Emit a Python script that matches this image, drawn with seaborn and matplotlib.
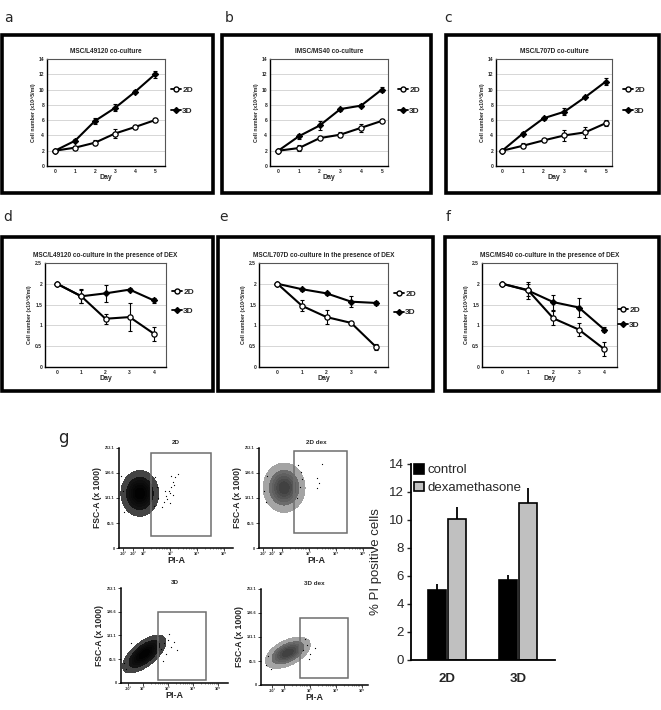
import numpy as np
import pandas as pd
import matplotlib
matplotlib.use("Agg")
import matplotlib.pyplot as plt
import seaborn as sns
from matplotlib.patches import Rectangle
from matplotlib.lines import Line2D
from matplotlib.colors import LinearSegmentedColormap

# ---------------- data ----------------
days_growth = [0, 1, 2, 3, 4, 5]
days_dex = [0, 1, 2, 3, 4]

a_2d = [2.0, 2.4, 3.05, 4.25, 5.1, 6.0]
a_2d_err = [0.1, 0.2, 0.3, 0.6, 0.3, 0.3]
a_3d = [2.0, 3.3, 5.9, 7.6, 9.7, 12.0]
a_3d_err = [0.1, 0.2, 0.35, 0.45, 0.2, 0.45]

b_2d = [2.0, 2.35, 3.65, 4.1, 5.0, 5.9]
b_2d_err = [0.1, 0.45, 0.1, 0.3, 0.55, 0.2]
b_3d = [2.0, 3.9, 5.3, 7.45, 7.9, 10.0]
b_3d_err = [0.1, 0.35, 0.6, 0.2, 0.2, 0.35]

c_2d = [2.0, 2.65, 3.35, 4.0, 4.4, 5.6]
c_2d_err = [0.1, 0.3, 0.2, 0.7, 0.75, 0.4]
c_3d = [2.0, 4.25, 6.25, 7.1, 9.0, 11.05]
c_3d_err = [0.1, 0.15, 0.2, 0.45, 0.1, 0.45]

d_2d = [2.0, 1.7, 1.16, 1.2, 0.8]
d_2d_err = [0.02, 0.16, 0.12, 0.33, 0.17]
d_3d = [2.0, 1.7, 1.77, 1.86, 1.6]
d_3d_err = [0.02, 0.17, 0.2, 0.03, 0.07]

e_2d = [2.0, 1.47, 1.2, 1.06, 0.49]
e_2d_err = [0.02, 0.13, 0.17, 0.02, 0.07]
e_3d = [2.0, 1.87, 1.77, 1.57, 1.54]
e_3d_err = [0.02, 0.04, 0.04, 0.13, 0.04]

f_2d = [2.0, 1.85, 1.17, 0.9, 0.43]
f_2d_err = [0.02, 0.15, 0.17, 0.16, 0.17]
f_3d = [2.0, 1.84, 1.56, 1.43, 0.9]
f_3d_err = [0.02, 0.2, 0.18, 0.24, 0.05]

titles = ["MSC/L49120 co-culture", "IMSC/MS40 co-culture", "MSC/L707D co-culture",
          "MSC/L49120 co-culture in the presence of DEX",
          "MSC/L707D co-culture in the presence of DEX",
          "MSC/MS40 co-culture in the presence of DEX"]
growth_yticks = [0, 2, 4, 6, 8, 10, 12, 14]
dex_yticks = [0, 0.5, 1, 1.5, 2, 2.5]
dex_ylabels = ["0", "0.5", "1", "1.5", "2", "2.5"]

# bar chart
bar_groups = ["2D", "3D"]
bar_conditions = ["control", "dexamethasone"]
bar_control = [5.0, 5.7]
bar_control_err = [0.45, 0.35]
bar_dex = [10.1, 11.2]
bar_dex_err = [0.8, 1.1]

# flow cytometry (x in decade position units, y = FSC-A x1000)
flow_titles = ["2D", "2D dex", "3D", "3D dex"]
fsc_ticks = [0, 65.5, 131.1, 196.6, 262.1]
fsc_labels = ["0", "65.5", "131.1", "196.6", "262.1"]
cloud_2d_x = [1.88, 2.11, 2.04, 1.88, 1.72, 1.65, 1.72, 1.88, 2.04]
cloud_2d_y = [143, 143, 156.8, 162.5, 156.8, 143, 129.2, 123.5, 129.2]
cloud_2ddex_x = [2.08, 2.33, 2.26, 2.08, 1.90, 1.83, 1.90, 2.08, 2.26]
cloud_2ddex_y = [158, 158, 172.9, 179, 172.9, 158, 143.1, 137, 143.1]
cloud_3d_x = [2.05, 2.33, 2.25, 2.05, 1.85, 1.77, 1.85, 2.05, 2.25]
cloud_3d_y = [80, 91, 97, 93, 81.4, 69, 63, 67, 78.6]
cloud_3ddex_x = [2.15, 2.43, 2.35, 2.15, 1.95, 1.87, 1.95, 2.15, 2.35]
cloud_3ddex_y = [88, 95, 101.5, 100, 91.5, 81, 74.5, 76, 84.5]
out_2d_x = [2.72, 2.78, 2.85, 2.9, 2.95, 3.0, 3.05, 3.1, 3.15, 3.2, 3.3, 2.8, 3.05, 2.98, 3.12,
            1.2, 1.3, 2.45, 2.5, 2.4, 1.25, 2.55]
out_2d_y = [108, 120, 135, 128, 150, 145, 160, 172, 165, 185, 195, 150, 190, 118, 140,
            190, 95, 185, 160, 110, 150, 130]
out_2ddex_x = [3.30, 3.30, 3.48, 2.59, 3.37, 2.7, 1.35, 1.45, 2.65, 2.55, 1.4, 2.75]
out_2ddex_y = [183, 157, 220, 217, 170, 200, 150, 190, 160, 130, 120, 180]
out_3d_x = [2.7, 2.85, 3.0, 3.1, 3.25, 3.35, 2.9, 2.6, 3.05, 1.25, 1.3, 2.8, 1.5]
out_3d_y = [95, 110, 120, 100, 112, 90, 80, 130, 135, 55, 40, 60, 110]
out_3ddex_x = [2.75, 2.9, 3.0, 1.3, 2.8, 1.4, 1.5, 2.95, 3.2]
out_3ddex_y = [95, 110, 85, 55, 125, 80, 45, 70, 100]
gates = [(2.30, 4.52, 31, 249), (2.44, 4.41, 39, 254), (2.60, 4.52, 8, 196), (2.62, 4.46, 19, 183)]
flow_xlims = [(1.11, 5.33), (1.15, 5.37), (1.12, 5.40), (1.12, 5.23)]
flow_xticks = [[1.26, 1.63, 2, 3, 4, 5], [1.30, 1.63, 2, 3, 4, 5], [1.4, 2, 3, 4, 5], [1.54, 2, 3, 4, 5]]
flow_xlabels_top = ["-10³", "-10²", "10²", "10³", "10⁴", "10⁵"]
flow_xlabels_bot = ["-10²", "10²", "10³", "10⁴", "10⁵"]

# ---------------- figure ----------------
sns.set_theme(style="white")
plt.rcParams['font.family'] = ['Liberation Sans', 'DejaVu Sans']

W, H = 661, 710
fig = plt.figure(figsize=(W / 100, H / 100), dpi=100)
fig.patch.set_facecolor("white")


def ax_px(left, top, right, bottom):
    return fig.add_axes([left / W, 1 - bottom / H, (right - left) / W, (bottom - top) / H])


def frame_px(x0, y0, x1, y1):
    fig.add_artist(Rectangle((x0 / W, 1 - y1 / H), (x1 - x0) / W, (y1 - y0) / H,
                             transform=fig.transFigure, fill=False, lw=2.6, ec="black"))


def line_panel(box, title, days, s2, e2, s3, e3, yticks, ylabels, xlim, ymax, leg_xy, leg_sp):
    ax = ax_px(*box)
    ax.set_facecolor("white")
    ax.set_xlim(xlim)
    ax.set_ylim(0, ymax)
    ax.set_yticks(yticks)
    ax.set_yticklabels(ylabels)
    ax.set_xticks(days)
    ax.yaxis.grid(True, color="#d0d0d0", lw=0.6)
    ax.xaxis.grid(False)
    ax.set_axisbelow(True)
    ax.errorbar(days, s3, yerr=e3, fmt="none", ecolor="black", elinewidth=0.8, capsize=1.3, capthick=0.8)
    ax.errorbar(days, s2, yerr=e2, fmt="none", ecolor="black", elinewidth=0.8, capsize=1.3, capthick=0.8)
    sns.lineplot(x=days, y=s3, ax=ax, color="black", lw=1.5, marker="D", markersize=3.2,
                 markerfacecolor="black", markeredgecolor="black")
    sns.lineplot(x=days, y=s2, ax=ax, color="black", lw=1.5, marker="o", markersize=3.8,
                 markerfacecolor="white", markeredgecolor="black", markeredgewidth=0.9)
    for sp in ["left", "bottom"]:
        ax.spines[sp].set_color("black")
        ax.spines[sp].set_linewidth(1.0)
    for sp in ["top", "right"]:
        ax.spines[sp].set_color("#555555")
        ax.spines[sp].set_linewidth(0.8)
    ax.tick_params(axis="both", length=0, pad=2)
    for lab in ax.get_xticklabels() + ax.get_yticklabels():
        lab.set_fontsize(3.6)
        lab.set_fontweight("bold")
    ax.set_xlabel("Day", fontsize=5, fontweight="bold", labelpad=0.5)
    ax.set_ylabel("Cell number (x10^5/ml)", fontsize=3.8, fontweight="bold", labelpad=2)
    ax.set_title(title, fontsize=4.7, fontweight="bold", pad=4)
    handles = [Line2D([0], [0], color="black", lw=1.3, marker="o", markersize=3.6,
                      markerfacecolor="white", markeredgecolor="black"),
               Line2D([0], [0], color="black", lw=1.3, marker="D", markersize=3.0,
                      markerfacecolor="black")]
    fig.legend(handles, ["2D", "3D"], loc="upper left",
               bbox_to_anchor=(leg_xy[0] / W, 1 - leg_xy[1] / H), frameon=False,
               prop={"size": 6, "weight": "bold"}, handlelength=1.2, handletextpad=0.15,
               labelspacing=leg_sp, borderaxespad=0, borderpad=0)
    return ax


# frames
frame_px(2, 35, 213, 193)
frame_px(222, 35, 431, 193)
frame_px(446, 35, 659, 193)
frame_px(2, 237, 213, 391)
frame_px(218, 237, 433, 391)
frame_px(445, 237, 659, 391)

line_panel((47, 59, 165, 166), titles[0], days_growth, a_2d, a_2d_err, a_3d, a_3d_err,
           growth_yticks, [str(t) for t in growth_yticks], (-0.4, 5.5), 14, (171, 86), 1.6)
line_panel((270, 59, 388, 166), titles[1], days_growth, b_2d, b_2d_err, b_3d, b_3d_err,
           growth_yticks, [str(t) for t in growth_yticks], (-0.4, 5.3), 14, (398, 86), 1.6)
line_panel((496, 59, 612, 166), titles[2], days_growth, c_2d, c_2d_err, c_3d, c_3d_err,
           growth_yticks, [str(t) for t in growth_yticks], (-0.3, 5.3), 14, (623, 86), 1.6)
line_panel((45, 263, 166, 367), titles[3], days_dex, d_2d, d_2d_err, d_3d, d_3d_err,
           dex_yticks, dex_ylabels, (-0.5, 4.5), 2.5, (172, 288), 1.4)
line_panel((259, 263, 388, 367), titles[4], days_dex, e_2d, e_2d_err, e_3d, e_3d_err,
           dex_yticks, dex_ylabels, (-0.75, 4.5), 2.5, (394, 290), 1.3)
line_panel((482, 263, 617, 367), titles[5], days_dex, f_2d, f_2d_err, f_3d, f_3d_err,
           dex_yticks, dex_ylabels, (-0.8, 4.5), 2.5, (618, 306), 0.9)

for lab, (x, y) in zip("abcdef", [(8, 18), (229, 18), (448, 18), (8, 217), (224, 217), (448, 217)]):
    fig.text(x / W, 1 - y / H, lab, fontsize=10, ha="center", va="center",
             family=["DejaVu Sans"])
fig.text(63 / W, 1 - 438 / H, "g", fontsize=12, ha="center", va="center", family=["DejaVu Sans"])

# ---------------- flow panels ----------------
dense_cmap = LinearSegmentedColormap.from_list(
    "dense", [(0.0, "#8a8a8a"), (0.15, "#161616"), (1.0, "#000000")])
sparse_cmap = LinearSegmentedColormap.from_list(
    "sparse", [(0.0, "#c4c4c4"), (0.25, "#6c6c6c"), (1.0, "#3c3c3c")])

flow_boxes = [(119, 448, 233, 548), (259, 448, 373, 548), (121, 588, 228, 683), (261, 589, 368, 685)]
clouds = [(cloud_2d_x, cloud_2d_y, dense_cmap), (cloud_2ddex_x, cloud_2ddex_y, sparse_cmap),
          (cloud_3d_x, cloud_3d_y, dense_cmap), (cloud_3ddex_x, cloud_3ddex_y, sparse_cmap)]
outs = [(out_2d_x, out_2d_y), (out_2ddex_x, out_2ddex_y), (out_3d_x, out_3d_y), (out_3ddex_x, out_3ddex_y)]

for i in range(4):
    ax = ax_px(*flow_boxes[i])
    ax.set_facecolor("white")
    cx, cy, cm = clouds[i]
    sns.kdeplot(x=cx, y=cy, fill=True, cmap=cm, levels=7, thresh=0.03, bw_adjust=2.0,
                antialiased=False, ax=ax)
    ox, oy = outs[i]
    ax.scatter(ox, oy, s=0.8, color="black", lw=0, zorder=3)
    g = gates[i]
    ax.add_patch(Rectangle((g[0], g[2]), g[1] - g[0], g[3] - g[2], fill=False, ec="#6e6e6e",
                           lw=1.1, zorder=4))
    ax.set_xlim(flow_xlims[i])
    ax.set_ylim(0, 262.1)
    ax.set_yticks(fsc_ticks)
    ax.set_yticklabels(fsc_labels)
    ax.set_xticks(flow_xticks[i])
    ax.set_xticklabels(flow_xlabels_top if i < 2 else flow_xlabels_bot)
    minors = [d + np.log10(k) for d in (2, 3, 4) for k in range(2, 10)]
    ax.set_xticks(minors, minor=True)
    ax.tick_params(axis="both", which="major", length=2, width=0.6, pad=1, direction="out",
                   bottom=True, left=True)
    ax.tick_params(axis="x", which="minor", length=1, width=0.4, bottom=True)
    for lab in ax.get_xticklabels() + ax.get_yticklabels():
        lab.set_fontsize(2.8)
        lab.set_fontweight("bold")
    for sp in ["top", "right"]:
        ax.spines[sp].set_visible(False)
    for sp in ["left", "bottom"]:
        ax.spines[sp].set_color("black")
        ax.spines[sp].set_linewidth(1.1)
    ax.set_xlabel("PI-A", fontsize=6.5, fontweight="bold", labelpad=0)
    ax.set_ylabel("FSC-A (x 1000)", fontsize=6.2, fontweight="bold", labelpad=2)
    ax.set_title(flow_titles[i], fontsize=4.5, fontweight="bold", pad=3)

# ---------------- bar chart ----------------
df_bar = pd.DataFrame({
    "group": bar_groups * 2,
    "condition": [bar_conditions[0]] * 2 + [bar_conditions[1]] * 2,
    "value": bar_control + bar_dex,
})
axb = ax_px(411, 464, 555, 660)
axb.set_facecolor("white")
sns.barplot(data=df_bar, x="group", y="value", hue="condition", palette=["#000000", "#c0c0c0"],
            width=0.56, gap=0.1, edgecolor="black", linewidth=1.2, errorbar=None,
            saturation=1, ax=axb)
for cont, errs in zip(axb.containers, [bar_control_err, bar_dex_err]):
    for bar, e in zip(cont, errs):
        xc = bar.get_x() + bar.get_width() / 2
        axb.errorbar(xc, bar.get_height(), yerr=[[0], [e]], fmt="none", ecolor="black",
                     elinewidth=1.3, capsize=0)
axb.set_xlim(-0.51, 1.52)
axb.set_ylim(0, 14)
axb.set_yticks(range(0, 15, 2))
axb.set_xlabel("")
axb.set_ylabel("% PI positive cells", fontsize=9.5, labelpad=5)
axb.tick_params(axis="y", length=3, width=1, direction="out", left=True, labelsize=9.5, pad=2)
axb.tick_params(axis="x", length=0, labelsize=9.5, pad=9)
for lab in axb.get_xticklabels():
    lab.set_fontweight("bold")
for sp in ["top", "right"]:
    axb.spines[sp].set_visible(False)
for sp in ["left", "bottom"]:
    axb.spines[sp].set_color("black")
    axb.spines[sp].set_linewidth(1.3)
axb.legend(loc="upper left", bbox_to_anchor=(0.02, 1.0), frameon=False, fontsize=9.5,
           handlelength=0.75, handleheight=0.75, handletextpad=0.3, labelspacing=0.4,
           borderaxespad=0, borderpad=0)

fig.savefig("out.png", dpi=100, facecolor="white")
